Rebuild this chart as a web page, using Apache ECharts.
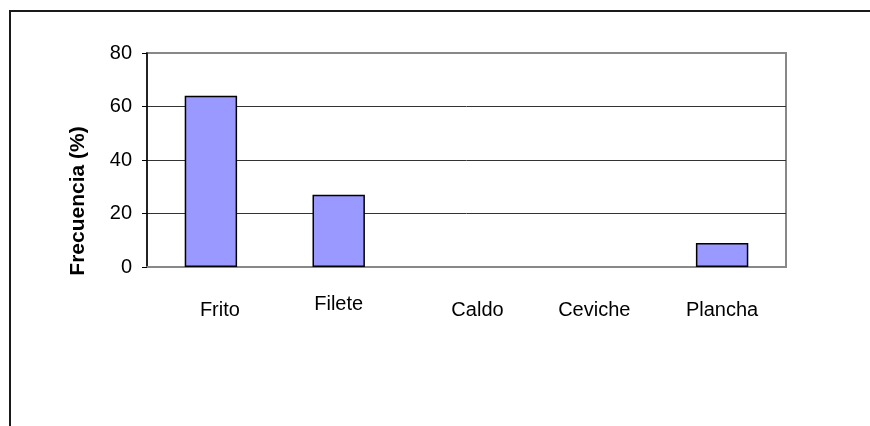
<!DOCTYPE html>
<html>
<head>
<meta charset="utf-8">
<script src="https://cdn.jsdelivr.net/npm/echarts@6/dist/echarts.min.js"></script>
<style>
  html, body { margin: 0; padding: 0; background: #fff; overflow: hidden; }
  #frame { position: absolute; left: 9px; top: 10px; width: 900px; height: 500px; border: 2px solid #1a1a1a; }
  #chart { position: absolute; left: 0; top: 0; width: 870px; height: 426px; }
</style>
</head>
<body>
<div id="frame"></div>
<div id="chart"></div>
<script>
// categorías y frecuencias (%)
const categories = ['Frito', 'Filete', 'Caldo', 'Ceviche', 'Plancha'];
const frecuencia = [64, 27, 0, 0, 9];
const yTicks = [0, 20, 40, 60, 80];

// pequeños desplazamientos de etiquetas como en el original
const labelPad = {
  Frito: [6, 0, 0, 18],
  Filete: [0, 0, 0, 0],
  Caldo: [6, 0, 0, 22],
  Ceviche: [6, 0, 0, 0],
  Plancha: [6, 0, 0, 0]
};

const chart = echarts.init(document.getElementById('chart'));
chart.setOption({
  animation: false,
  textStyle: { fontFamily: 'Liberation Sans, Arial, sans-serif' },
  grid: { left: 147, right: 84, top: 53, bottom: 159, show: true, borderColor: '#888', borderWidth: 2 },
  xAxis: {
    type: 'category',
    data: categories.map(c => ({ value: c, textStyle: { padding: labelPad[c] } })),
    axisLine: { lineStyle: { color: '#888', width: 2 } },
    axisTick: { show: false },
    axisLabel: { color: '#000', fontSize: 20, margin: 27, interval: 0 }
  },
  yAxis: {
    type: 'value',
    min: yTicks[0],
    max: yTicks[yTicks.length - 1],
    interval: 20,
    name: 'Frecuencia (%)',
    nameLocation: 'middle',
    nameGap: 58,
    nameTextStyle: { fontSize: 21, fontWeight: 'bold', color: '#000', padding: [0, 82, 0, 0] },
    axisLine: { show: true, lineStyle: { color: '#000', width: 1.5 } },
    axisTick: { show: true, inside: false, length: 5, lineStyle: { color: '#000' } },
    axisLabel: { color: '#000', fontSize: 20, margin: 15 },
    splitLine: { lineStyle: { color: ['#888', '#333', '#333', '#333', '#888'], width: 1 } }
  },
  series: [{
    type: 'bar',
    data: frecuencia.map(v => v === 0 ? { value: v, itemStyle: { borderWidth: 0 } } : v),
    barWidth: '41%',
    itemStyle: { color: '#9999FF', borderColor: '#000', borderWidth: 1.5 }
  }]
});
</script>
</body>
</html>
